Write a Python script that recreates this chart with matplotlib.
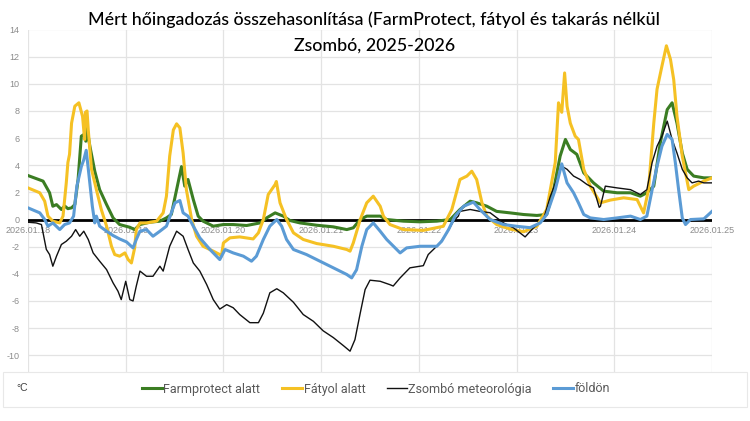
import matplotlib.pyplot as plt
from matplotlib.patches import Rectangle

# hours since 2026-01-18 00:00, values in °C
farm_h = [0, 3.7, 5.3, 6.1, 7, 8.2, 9, 9.8, 10.7, 11.5, 12.3, 13.1, 13.9, 14.2, 14.5, 15.2, 16.4, 17.6,
          19.3, 20.9, 22.5, 25, 26.2, 27.5, 29.9, 32.4, 34, 35.2, 36.5, 37.7, 38.5, 39.3, 40.6, 41.8,
          43, 45.5, 48, 50.4, 53.7, 57, 58.6, 60.7, 62.7, 64.3, 66.8, 70.9, 75, 78.3, 79.9, 81.6,
          83.2, 86.5, 88.1, 92.2, 96.3, 100.4, 103.7, 106.1, 108.6, 110.2, 112.7, 115.1, 118.4,
          121.7, 125, 127.4, 129.1, 130.7, 132, 133.2, 134.8, 136.5, 138.9, 141.4, 144.7, 148,
          150.4, 152, 153.7, 155.3, 157, 158.2, 159.4, 160.7, 161.9, 163.5, 166, 168]
farm_v = [3.24, 2.83, 1.97, 0.98, 1.1, 0.74, 1.0, 0.8, 0.86, 1.1, 2.95, 6.14, 6.3, 5.77, 6.7, 5.4, 3.56, 2.2,
          1.1, 0.12, -0.37, -0.57, -0.74, -0.37, -0.2, -0.12, 0.12, 0.37, 2.2, 3.9, 2.46, 2.95, 1.47, 0.25,
          -0.12, -0.49, -0.37, -0.37, -0.44, -0.25, 0.12, 0.49, 0.25, -0.07, -0.25, -0.42, -0.54, -0.74, -0.61, 0,
          0.25, 0.25, 0.0, -0.12, -0.17, -0.12, 0.0, 0.74, 1.35, 1.23, 0.98, 0.6, 0.49,
          0.37, 0.3, 0.37, 2.2, 4.67, 5.9, 5.16, 4.8, 3.44, 2.7, 2.09, 1.97, 1.97,
          1.72, 1.97, 2.46, 5.65, 8.1, 8.6, 7.1, 4.9, 3.7, 3.2, 3.07, 3.07]

fatyol_h = [0, 2.9, 4.1, 4.9, 6.1, 7.8, 8.6, 9.4, 9.8, 10.2, 10.7, 11.5, 12.5, 13.4, 13.9, 14.1, 14.5, 14.8,
            15.6, 16.8, 18, 19.3, 20.5, 21.3, 22.5, 23.8, 24.6, 25.4, 26.2, 26.6, 27.5, 29.1, 31.6, 33.2,
            34, 34.8, 35.7, 36.5, 37.3, 38.1, 38.9, 40.2, 41.4, 43, 45.5, 47.1, 47.5, 48, 49.6, 52,
            55.3, 56.6, 57.8, 59, 60.7, 61, 61.9, 63.5, 65.2, 67.6, 70.9, 75, 78.3, 79.1, 79.9, 81.6,
            83.2, 84.8, 86.5, 87.3, 88.9, 92.2, 97.1, 102, 104.1, 106.1, 107.8, 109, 110.2, 111.5,
            112.7, 115.1, 118.4, 121.7, 125, 127.4, 129.5, 130.3, 131.1, 131.8, 132.4, 133.2, 134.4,
            135.2, 136.5, 138.1, 140.6, 143, 146.3, 149.6, 151.2, 152.4, 153.7, 154.5, 155.7, 156.8,
            157.8, 158.6, 159.4, 160.7, 162.3, 163.5, 166, 168]
fatyol_v = [2.33, 1.97, 1.35, 0.25, -0.12, -0.25, 0.25, 2.7, 4.2, 4.8, 7.1, 8.35, 8.6, 7.6, 5.9, 7.9, 8.0, 6.6,
            3.7, 2.2, 0.74, -0.49, -1.97, -2.58, -2.7, -2.46, -2.95, -3.2, -2.09, -0.74, -0.25, -0.25, -0.12, 0.49,
            1.72, 4.67, 6.6, 7.05, 6.75, 4.9, 2.2, 0, -1.23, -1.97, -2.33, -2.58, -2.7, -1.72, -1.35, -1.28,
            -1.43, -0.98, 0, 1.84, 2.58, 2.8, 1.23, 0, -0.98, -1.47, -1.77, -1.97, -2.21, -2.33, -1.72, 0,
            1.23, 1.72, 0.98, 0.25, -0.37, -0.74, -0.8, -0.5, 0.74, 2.95, 3.2, 3.56, 2.95, 1.23,
            0.25, -0.37, -0.7, -0.9, -0.5, 0.74, 4.2, 8.6, 7.9, 10.8, 8.35, 7.1, 6.14,
            5.9, 3.7, 2.46, 1.23, 1.43, 1.6, 1.47, 0.49, 2.2, 7.1, 9.6, 11.3, 12.8,
            11.8, 10.3, 7.6, 4.67, 2.2, 2.46, 2.83, 3.07]

meteo_h = [0, 2, 3.3, 4.5, 5.3, 6.1, 7, 8.2, 9.4, 10.7, 11.7, 12.7, 13.7, 14.8, 16, 17.6, 19.3, 20.9,
           22.1, 22.9, 24, 25, 25.8, 26.6, 27.5, 29.1, 30.7, 32.4, 33.2, 34.8, 36.5, 38.1, 39.3, 40.6,
           42.2, 43.9, 45.5, 47.1, 48.8, 50.4, 52, 54.5, 56.6, 57.8, 59.4, 61.1, 62.7, 65.2, 67.6, 70.1,
           72.5, 75, 77.5, 79.1, 80.3, 81.6, 82.8, 84, 86.5, 88.9, 89.7, 91.4, 93.8, 97.1, 98.3, 99.6,
           101.2, 102.9, 104.5, 105.7, 106.1, 108.6, 111, 113.5, 116.8, 119.2, 122.1, 124.2, 126.6,
           128.3, 129.9, 131.1, 132.4, 134, 135.6, 137.3, 138.9, 140.3, 140.6, 141.8, 144.7, 148,
           150.4, 152, 153.3, 154.5, 155.7, 157, 158.2, 159.4, 160.7, 161.9, 163.1, 164.7, 166, 168]
meteo_v = [-0.2, -0.25, -0.37, -2.2, -2.58, -3.44, -2.7, -1.84, -1.6, -1.23, -0.74, -1.23, -0.86, -1.47, -2.46, -3.07, -3.69, -4.67,
           -5.28, -5.9, -4.55, -5.9, -6.0, -4.9, -3.8, -4.18, -4.18, -3.44, -3.8, -1.97, -0.86, -1.23, -2.2, -3.2,
           -3.8, -4.8, -5.9, -6.6, -6.27, -6.5, -7.0, -7.6, -7.6, -6.9, -5.4, -5.1, -5.4, -6.1, -7.0, -7.5,
           -8.2, -8.7, -9.3, -9.7, -8.85, -6.9, -5.16, -4.47, -4.55, -4.8, -4.9, -4.3, -3.56, -3.4, -2.58, -2.2,
           -1.72, -0.98, -0.12, 0.25, 0.6, 0.74, 0.6, 0.5, -0.25, -0.6, -1.28, -0.6, 0.0,
           1.72, 2.95, 3.93, 3.7, 3.2, 2.95, 2.58, 2.33, 0.9, 0.98, 2.46, 2.33, 2.2,
           1.84, 2.2, 4.2, 5.4, 6.14, 7.25, 5.9, 4.9, 3.7, 3.07, 2.7, 2.83, 2.7, 2.7]

fold_h = [0, 2.9, 4.1, 4.9, 6.1, 7.8, 9, 10.2, 11.2, 12, 13.1, 13.7, 14.3, 15, 15.8, 16.4, 16.8, 17.6,
          19.3, 20.9, 22.5, 24.2, 25.8, 26.6, 27.5, 29.1, 30.7, 32.4, 34, 35.2, 36.1, 37.3, 38.1, 39.3,
          40.6, 42.2, 44.7, 47.1, 48.4, 50.4, 52.9, 54.9, 56.1, 57.8, 59.4, 61.1, 62.3, 63.5, 65.2, 68.4,
          71.7, 75, 78.3, 79.5, 80.7, 82, 83.2, 84.8, 86.5, 88.1, 91.4, 93, 96.3, 100.4, 101.6, 103.3,
          104.9, 107, 109.4, 111, 113.5, 116.8, 120.1, 123.3, 125.8, 127.4, 129.5, 131.1, 132.4, 134,
          135.2, 136.5, 138.1, 141.4, 144.7, 148, 150.4, 152, 153.3, 154.5, 155.7, 157, 158.2, 159,
          159.8, 160.7, 161.5, 162.7, 166, 168]
fold_v = [0.86, 0.49, 0, -0.49, -0.25, -0.74, -0.37, -0.25, 0.25, 2.46, 3.9, 4.4, 5.1, 3.2, 0.98, -0.25, 0.25, -0.49,
          -0.86, -1.18, -1.43, -1.65, -2.09, -1.47, -0.86, -0.74, -1.23, -0.86, -0.49, 0.49, 1.23, 1.4, 0.49, 0.25,
          -0.49, -1.35, -2.21, -2.95, -2.21, -2.46, -2.7, -3.07, -2.7, -1.47, -0.49, 0, -0.49, -1.47, -2.21, -2.58,
          -3.07, -3.56, -4.05, -4.3, -3.7, -1.97, -0.74, -0.25, -0.86, -1.47, -2.46, -2.09, -1.97, -1.97, -1.6, -0.74,
          0.25, 0.98, 1.28, 0.74, 0, -0.37, -0.5, -0.6, -0.25, 0.37, 2.2, 4.1, 2.7, 1.97,
          1.23, 0.37, 0.12, 0, 0.12, 0.25, 0, 0.25, 2.2, 3.93, 5.4, 6.27, 5.9, 4.18,
          2.2, 0.12, -0.37, 0, 0.05, 0.6]

day_labels = ['2026.01.18', '2026.01.19', '2026.01.20', '2026.01.21',
              '2026.01.22', '2026.01.23', '2026.01.24', '2026.01.25']
y_ticks = list(range(-10, 16, 2))

fig = plt.figure(figsize=(7.5, 4.21), dpi=100, facecolor='white')
ax = fig.add_axes([28 / 750, 1 - 382.4 / 421, 684 / 750, 352.9 / 421])
ax.set_xlim(0, 168)
ax.set_ylim(-12, 14)

ax.plot(farm_h, farm_v, color='#3b7d23', lw=2.2, label='Farmprotect alatt', zorder=3)
ax.plot(fatyol_h, fatyol_v, color='#f5c124', lw=2.2, label='Fátyol alatt', zorder=4)
ax.plot(meteo_h, meteo_v, color='#111111', lw=1.0, label='Zsombó meteorológia', zorder=5)
ax.plot(fold_h, fold_v, color='#5b9bd5', lw=2.2, label='földön', zorder=6)
ax.axhline(0, color='black', lw=2, zorder=2.5)

ax.set_xticks([24 * i for i in range(8)])
ax.set_xticklabels([])
ax.set_yticks(y_ticks)
ax.set_yticklabels([str(v) for v in y_ticks], color='#8c8c8c', fontsize=6.5,
                   family='Liberation Sans')
ax.tick_params(length=0, pad=6)
ax.grid(True, color='#e3e3e3', lw=0.9)
ax.set_axisbelow(True)
for spine in ax.spines.values():
    spine.set_visible(False)

for i, lab in enumerate(day_labels):
    ax.text(24 * i, -0.8, lab, ha='center', va='center', fontsize=6.5,
            color='#8c8c8c', family='Liberation Sans', zorder=2)

fig.text(0.499, 1 - 20 / 421, 'Mért hőingadozás összehasonlítása (FarmProtect, fátyol és takarás nélkül',
         ha='center', va='center', fontsize=12.8, family=['Lato', 'DejaVu Sans'], weight='medium')
fig.text(0.499, 1 - 46 / 421, 'Zsombó, 2025-2026',
         ha='center', va='center', fontsize=12.8, family=['Lato', 'DejaVu Sans'], weight='medium')

# legend box at the bottom, overlapping the plot area
fig.patches.append(Rectangle((3 / 750, 1 - 407 / 421), 744 / 750, 35 / 421,
                             transform=fig.transFigure, facecolor='white',
                             edgecolor='#e8e8e8', lw=0.8, zorder=10))
fig.text(16 / 750, 1 - 388 / 421, '°C', fontsize=7.5, color='#404040',
         family='Liberation Sans', va='center', zorder=11)
leg = fig.legend(loc='center', bbox_to_anchor=(376 / 750, 1 - 389 / 421), ncol=4,
                 frameon=False, handlelength=1.6, handletextpad=0.15, columnspacing=1.7,
                 prop={'family': ['Roboto'], 'size': 9})
leg.set_zorder(12)
for t in leg.get_texts():
    t.set_color('#595959')

fig.savefig('out.png', dpi=100, facecolor='white')
